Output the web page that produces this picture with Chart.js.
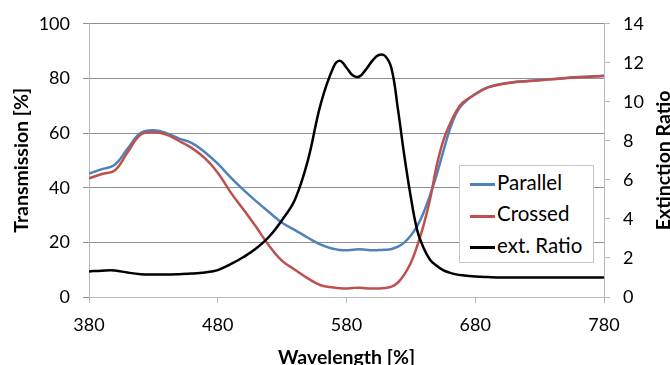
<!DOCTYPE html>
<html>
<head>
<meta charset="utf-8">
<script src="https://cdn.jsdelivr.net/npm/chart.js@4"></script>
<style>
html,body{margin:0;padding:0;background:#fff;overflow:hidden}
#wrap{position:relative;width:670px;height:365px;overflow:hidden}
#legend{position:absolute;left:459px;top:165px;width:133px;height:96px;border:1px solid #c6c6c6;background:#fff;font:20.5px Lato,sans-serif;color:#000}
#legend .row{position:absolute;left:10px;height:22px;line-height:22px;white-space:nowrap}
#legend .row i{display:inline-block;width:25px;height:3px;vertical-align:middle;margin-right:2px}
</style>
</head>
<body>
<div id="wrap">
  <canvas id="chart" width="690" height="380"></canvas>
  <div id="legend"></div>
</div>
<script>
/* ------------ data ------------ */
const WAVELENGTH = [380,390,400,410,420,430,440,450,460,470,480,490,500,510,520,530,540,550,560,570,
                    575,580,585,590,595,600,605,610,615,620,625,630,635,640,645,650,655,660,665,670,
                    680,690,700,720,740,760,780];
const PARALLEL  = [45.2,46.8,48.4,54.3,60,61,60,58,56.3,53,48.8,43.8,39.2,35,31,27.2,24.5,21.7,19.2,17.6,
                   17.2,17.1,17.3,17.5,17.3,17.1,17.2,17.3,17.6,18.4,20,22.5,26,31,37.5,44.7,53,61,67,70.5,
                   74.3,76.8,78,79.1,79.8,80.5,81];
const CROSSED   = [43.4,45,46.3,53,59.4,60.3,59.5,57.1,54.5,50.8,45.5,38.3,32,25.5,18.7,13.2,10,6.8,4.3,3.5,
                   3.2,3.1,3.3,3.4,3.2,3.1,3.1,3.3,3.8,5.3,8.3,12.5,18.8,26.5,36,48,57,63,67.8,71,
                   74.2,76.7,77.9,79,79.7,80.4,80.9];
const EXT_RATIO = [1.31,1.35,1.36,1.25,1.17,1.15,1.15,1.17,1.2,1.26,1.38,1.68,2.05,2.5,3.1,3.95,5.0,7.0,9.9,11.8,
                   12.1,11.75,11.35,11.3,11.65,12.1,12.4,12.35,11.7,9.6,7.2,5.1,3.4,2.5,1.9,1.6,1.38,1.25,1.16,1.11,
                   1.05,1.02,1.0,1.0,1.0,1.0,1.0];
const SERIES_NAMES = ['Parallel','Crossed','ext. Ratio'];
const SERIES_COLORS = ['#4f81bd','#c0504d','#000000'];
const X_TITLE = 'Wavelength [%]';
const Y_TITLE = 'Transmission [%]';
const Y2_TITLE = 'Extinction Ratio';

/* ------------ helpers ------------ */
const pts = ys => WAVELENGTH.map((x,i)=>({x,y:ys[i]}));
const FONT = 'Lato, sans-serif';
const GRID = '#8f8f8f', AXIS = '#b8b8b8';
const TICK_FONT = {family:FONT,size:18};
const TITLE_FONT = {family:FONT,size:19.5,weight:'bold'};

/* right title reads bottom-to-top like in the original */
const rightTitle = {
  id:'rightTitle',
  afterDraw(c){
    const {ctx,chartArea:a}=c;
    ctx.save();
    ctx.translate(664,(a.top+a.bottom)/2);
    ctx.rotate(-Math.PI/2);
    ctx.font='bold 19.5px '+FONT;ctx.fillStyle='#000';
    ctx.textAlign='center';ctx.textBaseline='middle';
    ctx.fillText(Y2_TITLE,0,0);
    ctx.restore();
  }
};

/* ------------ chart ------------ */
const chart = new Chart(document.getElementById('chart'),{
  type:'line',
  data:{datasets:[
    {label:SERIES_NAMES[0],data:pts(PARALLEL), borderColor:SERIES_COLORS[0],yAxisID:'y', order:2},
    {label:SERIES_NAMES[1],data:pts(CROSSED),  borderColor:SERIES_COLORS[1],yAxisID:'y', order:1},
    {label:SERIES_NAMES[2],data:pts(EXT_RATIO),borderColor:SERIES_COLORS[2],yAxisID:'y2',order:0}
  ].map(d=>({...d,borderWidth:2.5,pointRadius:0,fill:false,tension:0.4}))},
  options:{
    responsive:false,animation:false,devicePixelRatio:1,
    layout:{padding:{top:20,left:0,right:0,bottom:0}},
    plugins:{legend:{display:false},tooltip:{enabled:false}},
    scales:{
      x:{type:'linear',min:380,max:780,
         ticks:{stepSize:100,color:'#000',font:TICK_FONT,padding:11,maxRotation:0},
         grid:{drawOnChartArea:false,color:AXIS,tickLength:6},
         border:{color:AXIS},
         title:{display:true,text:X_TITLE,color:'#000',font:TITLE_FONT,padding:{top:0,bottom:11}},
         afterFit:s=>{s.height=83;}},
      y:{position:'left',min:0,max:100,
         ticks:{stepSize:20,color:'#000',font:TICK_FONT,padding:13},
         grid:{color:GRID,tickLength:6},
         border:{color:AXIS},
         title:{display:true,text:Y_TITLE,color:'#000',font:TITLE_FONT,padding:{top:10}},
         afterFit:s=>{s.width=89;}},
      y2:{position:'right',min:0,max:14,
         ticks:{stepSize:2,color:'#000',font:TICK_FONT,padding:13},
         grid:{drawOnChartArea:false,color:AXIS,tickLength:6},
         border:{color:AXIS},
         afterFit:s=>{s.width=86;}}
    }
  },
  plugins:[rightTitle]
});

/* ------------ legend ------------ */
const lg=document.getElementById('legend');
[4.7,36.3,68].forEach((top,i)=>{
  const ds=chart.data.datasets[i];
  const r=document.createElement('div');r.className='row';r.style.top=top+'px';
  r.innerHTML=`<i style="background:${ds.borderColor}"></i>${ds.label}`;
  lg.appendChild(r);
});
</script>
</body>
</html>
